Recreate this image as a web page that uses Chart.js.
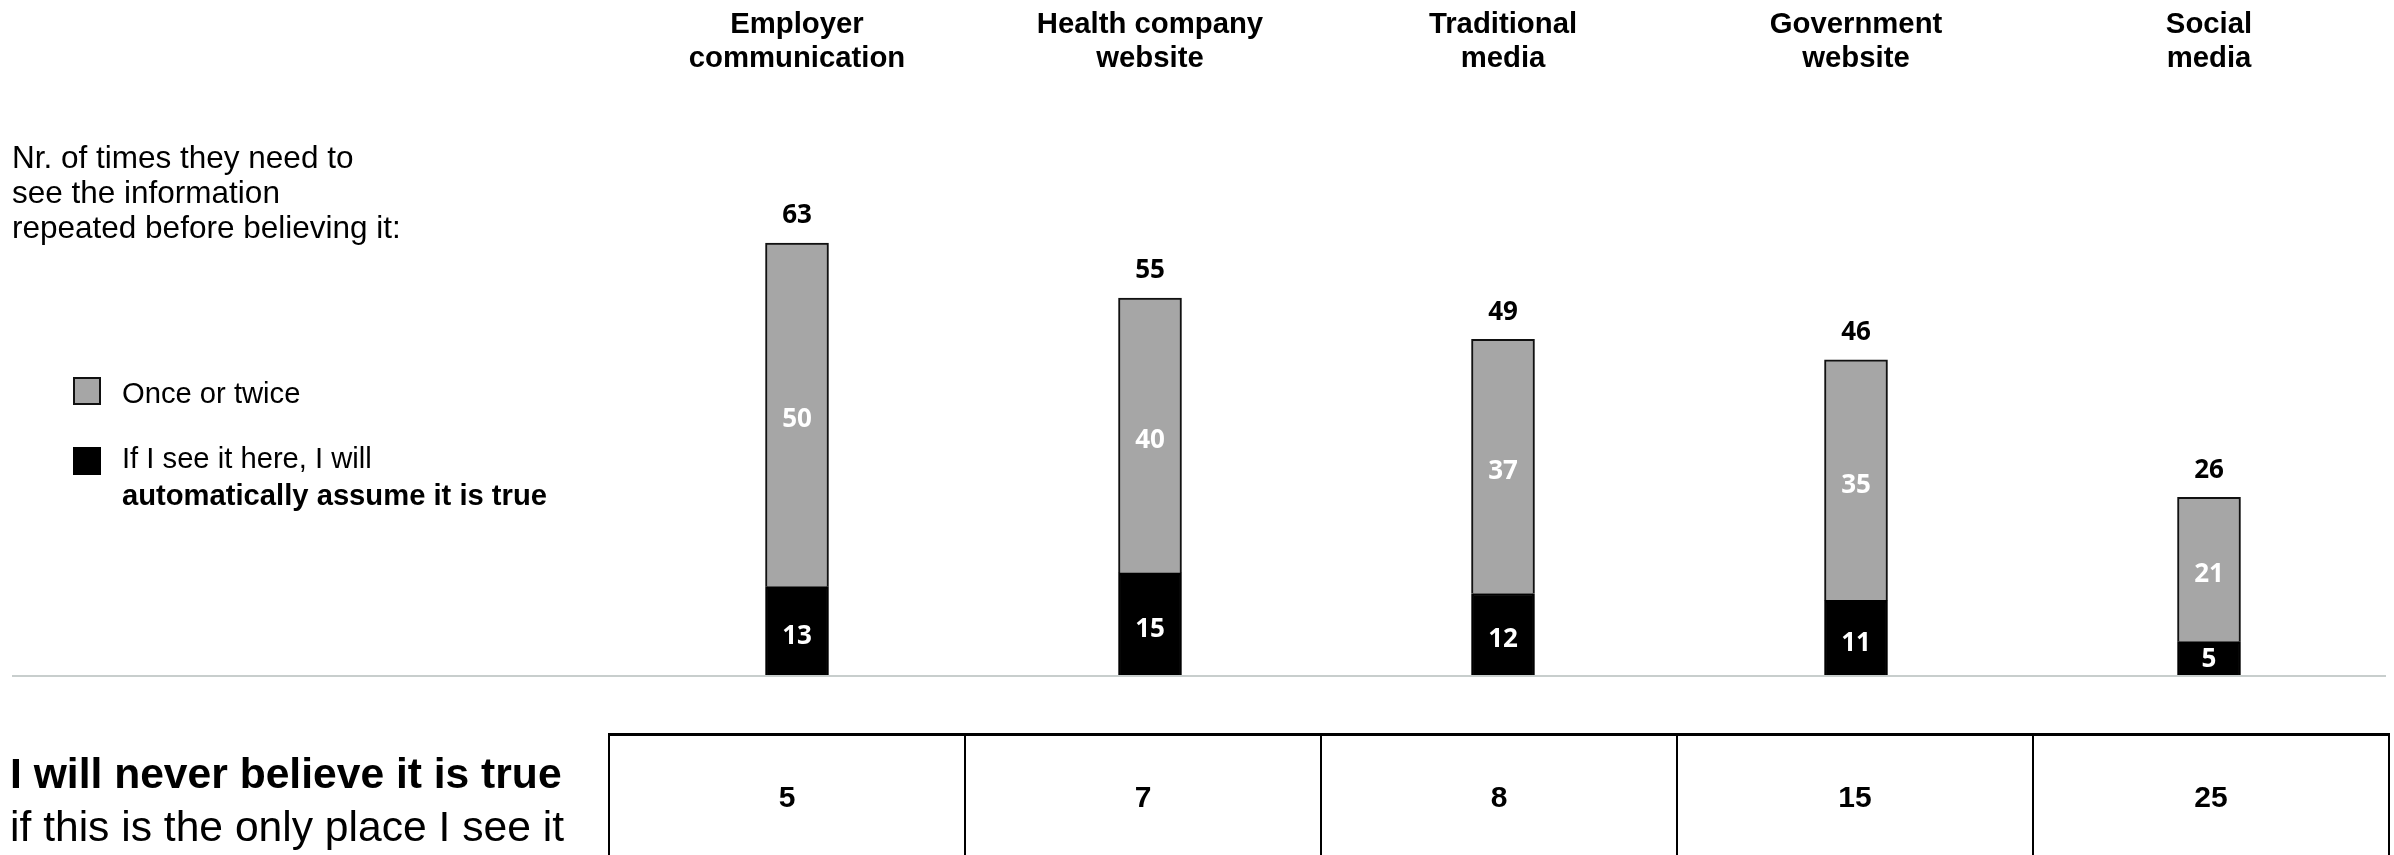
<!DOCTYPE html>
<html>
<head>
<meta charset="utf-8">
<script src="https://cdn.jsdelivr.net/npm/chart.js@4.4.1/dist/chart.umd.min.js"></script>
<style>
html,body{margin:0;padding:0;background:#fff;}
#wrap{position:relative;width:2394px;height:855px;overflow:hidden;font-family:"Liberation Sans",Arial,sans-serif;color:#000;}
#chart{position:absolute;left:0;top:0;}
.note{position:absolute;left:12px;top:140px;font-size:31.5px;line-height:35px;white-space:nowrap;}
.leg{position:absolute;left:73px;white-space:nowrap;}
.leg .sw{position:absolute;left:0;width:28px;height:28px;box-sizing:border-box;}
.leg .tx{position:absolute;left:49px;top:0;font-size:29.2px;line-height:37px;}
.never{position:absolute;left:10px;top:747px;font-size:42.6px;line-height:53px;white-space:nowrap;}
.tbl{position:absolute;left:608px;top:733px;width:1782px;height:140px;box-sizing:border-box;border-top:3px solid #000;display:flex;}
.tbl .cell{flex:1;border-left:2px solid #000;text-align:center;font-weight:bold;font-size:30px;line-height:36px;padding-top:43px;}
.tbl .cell:last-child{border-right:2px solid #000;}
</style>
</head>
<body>
<div id="wrap">
  <canvas id="chart" width="2394" height="855"></canvas>
  <div class="note">Nr. of times they need to<br>see the information<br>repeated before believing it:</div>
  <div id="legend"></div>
  <div class="never"><b>I will never believe it is true</b><br>if this is the only place I see it</div>
  <div class="tbl" id="tbl"></div>
</div>
<script>
// ---- data ----
const categories = [
  ["Employer", "communication"],
  ["Health company", "website"],
  ["Traditional", "media"],
  ["Government", "website"],
  ["Social", "media"]
];
const automaticallyTrue = [13, 15, 12, 11, 5];
const onceOrTwice = [50, 40, 37, 35, 21];
const neverBelieve = [5, 7, 8, 15, 25];
const seriesNames = ["If I see it here, I will automatically assume it is true", "Once or twice"];

const FONT = '"Liberation Sans", Arial, sans-serif';

const labelPlugin = {
  id: 'valueLabels',
  afterDatasetsDraw(chart) {
    const ctx = chart.ctx;
    const ys = chart.scales.y;
    const y0 = ys.getPixelForValue(0);
    ctx.save();
    // baseline
    ctx.strokeStyle = '#c8cecd';
    ctx.lineWidth = 2;
    ctx.beginPath();
    ctx.moveTo(12, y0);
    ctx.lineTo(2386, y0);
    ctx.stroke();
    // segment labels
    ctx.font = '700 26px "Open Sans", sans-serif';
    ctx.textAlign = 'center';
    ctx.textBaseline = 'middle';
    chart.data.datasets.forEach((ds, i) => {
      const meta = chart.getDatasetMeta(i);
      meta.data.forEach((bar, j) => {
        const p = bar.getProps(['x', 'y', 'base'], true);
        const h = Math.abs(p.base - p.y);
        ctx.fillStyle = '#ffffff';
        ctx.fillText(String(ds.data[j]), p.x, (p.y + p.base) / 2 + (h > 50 ? 5 : 1));
      });
    });
    // totals
    const topMeta = chart.getDatasetMeta(chart.data.datasets.length - 1);
    topMeta.data.forEach((bar, j) => {
      const p = bar.getProps(['x', 'y'], true);
      const total = chart.data.datasets.reduce((s, ds) => s + ds.data[j], 0);
      ctx.fillStyle = '#000000';
      ctx.fillText(String(total), p.x, p.y - 27);
    });
    ctx.restore();
  }
};

const chart = new Chart(document.getElementById('chart'), {
  type: 'bar',
  data: {
    labels: categories,
    datasets: [
      {
        label: seriesNames[0],
        data: automaticallyTrue,
        backgroundColor: '#000000',
        borderColor: '#000000',
        borderWidth: 2,
        barThickness: 63
      },
      {
        label: seriesNames[1],
        data: onceOrTwice,
        backgroundColor: '#a6a6a6',
        borderColor: '#111111',
        borderWidth: 2,
        barThickness: 63
      }
    ]
  },
  options: {
    responsive: false,
    animation: false,
    devicePixelRatio: 1,
    layout: { padding: { left: 620.5, right: 8.5, top: 3.5, bottom: 179 } },
    plugins: { legend: { display: false }, tooltip: { enabled: false } },
    scales: {
      x: {
        position: 'top',
        stacked: true,
        grid: { display: false, drawTicks: false },
        border: { display: false },
        ticks: {
          color: '#000',
          padding: 0,
          maxRotation: 0,
          autoSkip: false,
          font: { family: FONT, size: 29.3, weight: 'bold', lineHeight: 34 / 29.3 }
        },
        afterFit(scale) { scale.height = 72; }
      },
      y: {
        display: false,
        stacked: true,
        min: 0,
        max: 87.6 - 1.5 / 6.873
      }
    }
  },
  plugins: [labelPlugin]
});

// ---- legend (HTML, built from datasets) ----
const legendItems = [
  { ds: 1, lines: ['Once or twice'], top: 375, swOff: 2 },
  { ds: 0, lines: ['If I see it here, I will', '<b>automatically assume it is true</b>'], top: 440, swOff: 7 }
];
const legend = document.getElementById('legend');
legendItems.forEach(it => {
  const d = chart.data.datasets[it.ds];
  const el = document.createElement('div');
  el.className = 'leg';
  el.style.top = it.top + 'px';
  const sw = document.createElement('div');
  sw.className = 'sw';
  sw.style.top = it.swOff + 'px';
  sw.style.background = d.backgroundColor;
  sw.style.border = '2px solid ' + d.borderColor;
  const tx = document.createElement('div');
  tx.className = 'tx';
  tx.innerHTML = it.lines.join('<br>');
  el.appendChild(sw);
  el.appendChild(tx);
  legend.appendChild(el);
});

// ---- table ----
const tbl = document.getElementById('tbl');
neverBelieve.forEach(v => {
  const c = document.createElement('div');
  c.className = 'cell';
  c.textContent = v;
  tbl.appendChild(c);
});
</script>
</body>
</html>
